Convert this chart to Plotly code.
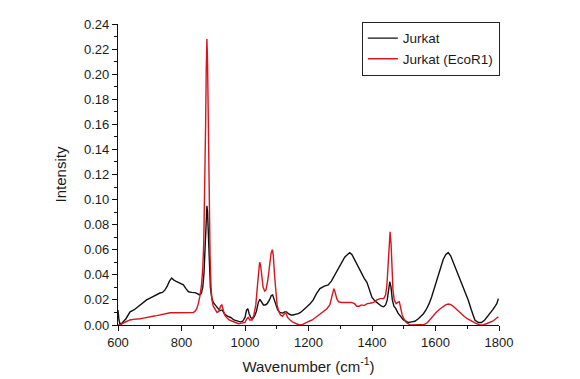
import plotly.graph_objects as go

# Jurkat (black)
jurkat_wn = [600, 603, 607, 615, 625, 638, 650, 660, 669, 680, 690, 701, 712, 722, 732, 740, 748, 755, 762, 769,
             775, 785, 795, 806, 814, 822, 832, 842, 850, 856, 862, 867, 871, 875, 878, 880, 882, 885, 888, 891,
             895, 900, 906, 912, 921, 928, 935, 945, 955, 965, 975, 985, 993, 1000, 1005, 1009, 1013, 1018, 1024,
             1030, 1036, 1042, 1047, 1052, 1058, 1064, 1070, 1077, 1083, 1087, 1092, 1097, 1103, 1110, 1118, 1125,
             1131, 1137, 1145, 1151, 1160, 1168, 1175, 1185, 1195, 1205, 1215, 1225, 1236, 1250, 1262, 1272, 1281,
             1289, 1298, 1306, 1314, 1322, 1330, 1337, 1345, 1352, 1360, 1368, 1376, 1384, 1392, 1400, 1410, 1420,
             1430, 1437, 1443, 1448, 1452, 1456, 1460, 1464, 1469, 1475, 1482, 1490, 1499, 1507, 1514, 1525, 1535,
             1546, 1555, 1562, 1570, 1580, 1588, 1597, 1606, 1615, 1624, 1632, 1640, 1648, 1656, 1665, 1677, 1690,
             1703, 1713, 1724, 1735, 1745, 1755, 1765, 1772, 1780, 1788, 1793, 1798]
jurkat_int = [0.012, 0.004, 0.000, 0.002, 0.005, 0.0105, 0.012, 0.014, 0.016, 0.018, 0.020, 0.0215, 0.023, 0.024,
              0.0255, 0.026, 0.028, 0.031, 0.035, 0.0375, 0.036, 0.0345, 0.033, 0.032, 0.029, 0.0265, 0.026,
              0.0258, 0.025, 0.024, 0.025, 0.030, 0.042, 0.068, 0.088, 0.095, 0.090, 0.070, 0.045, 0.030, 0.022,
              0.018, 0.016, 0.014, 0.0115, 0.012, 0.009, 0.007, 0.006, 0.004, 0.003, 0.0025, 0.003, 0.006, 0.012,
              0.013, 0.009, 0.006, 0.005, 0.007, 0.011, 0.018, 0.0205, 0.018, 0.016, 0.016, 0.017, 0.020, 0.0235,
              0.024, 0.020, 0.015, 0.012, 0.010, 0.0095, 0.0105, 0.0105, 0.009, 0.008, 0.008, 0.0085, 0.009, 0.010,
              0.012, 0.0145, 0.017, 0.020, 0.025, 0.029, 0.031, 0.032, 0.035, 0.039, 0.0425, 0.047, 0.051, 0.054,
              0.056, 0.0577, 0.056, 0.052, 0.049, 0.045, 0.041, 0.037, 0.034, 0.027, 0.022, 0.019, 0.017, 0.015,
              0.0145, 0.016, 0.020, 0.028, 0.0345, 0.030, 0.020, 0.015, 0.013, 0.0095, 0.007, 0.004, 0.003, 0.002,
              0.0025, 0.003, 0.005, 0.007, 0.009, 0.012, 0.017, 0.0225, 0.030, 0.038, 0.046, 0.052, 0.056, 0.0577,
              0.055, 0.050, 0.044, 0.036, 0.028, 0.020, 0.012, 0.004, 0.002, 0.002, 0.004, 0.007, 0.0095, 0.012,
              0.015, 0.017, 0.021]

# Jurkat (EcoR1) (red)
ecor1_wn = [600, 610, 620, 627, 638, 648, 660, 670, 680, 695, 710, 722, 732, 745, 755, 764, 780, 800, 820, 830, 837,
            843, 848, 853, 858, 863, 867, 870, 873, 876, 878, 880, 882, 884, 887, 890, 893, 896, 900, 906, 912, 918,
            923, 927, 931, 936, 942, 950, 960, 970, 980, 990, 1000, 1006, 1010, 1015, 1022, 1028, 1034, 1038, 1042,
            1046, 1049, 1053, 1057, 1062, 1066, 1072, 1077, 1082, 1086, 1089, 1093, 1097, 1101, 1106, 1112, 1118,
            1124, 1129, 1134, 1142, 1152, 1162, 1172, 1182, 1192, 1202, 1212, 1222, 1235, 1247, 1258, 1267, 1273,
            1277, 1280, 1284, 1289, 1295, 1305, 1320, 1335, 1345, 1352, 1360, 1367, 1375, 1385, 1394, 1405, 1415,
            1425, 1437, 1443, 1447, 1451, 1455, 1457, 1460, 1463, 1466, 1470, 1476, 1481, 1486, 1490, 1495, 1500,
            1508, 1520, 1535, 1550, 1565, 1575, 1585, 1595, 1604, 1615, 1625, 1633, 1641, 1650, 1660, 1670, 1680,
            1690, 1700, 1710, 1719, 1730, 1740, 1750, 1760, 1770, 1780, 1790, 1798]
ecor1_int = [0.0, 0.0005, 0.002, 0.003, 0.004, 0.0045, 0.0045, 0.005, 0.0055, 0.006, 0.007, 0.0075, 0.008, 0.009,
             0.0095, 0.0098, 0.0098, 0.0098, 0.0097, 0.0098, 0.010, 0.011, 0.013, 0.017, 0.023, 0.032, 0.045, 0.065,
             0.100, 0.160, 0.205, 0.228, 0.210, 0.170, 0.100, 0.055, 0.030, 0.020, 0.015, 0.012, 0.010, 0.011,
             0.015, 0.016, 0.012, 0.008, 0.006, 0.004, 0.003, 0.002, 0.001, 0.0015, 0.002, 0.005, 0.006, 0.004,
             0.004, 0.008, 0.016, 0.028, 0.042, 0.050, 0.048, 0.038, 0.030, 0.027, 0.028, 0.036, 0.048, 0.057,
             0.060, 0.056, 0.040, 0.025, 0.016, 0.011, 0.008, 0.007, 0.009, 0.0095, 0.006, 0.004, 0.002, 0.001,
             0.0, 0.0005, 0.002, 0.003, 0.004, 0.006, 0.008, 0.0105, 0.013, 0.016, 0.022, 0.027, 0.029, 0.026,
             0.021, 0.0185, 0.018, 0.018, 0.018, 0.017, 0.015, 0.015, 0.016, 0.0155, 0.017, 0.0173, 0.018, 0.020,
             0.021, 0.021, 0.024, 0.032, 0.050, 0.070, 0.0744, 0.065, 0.040, 0.028, 0.020, 0.017, 0.018, 0.0186,
             0.014, 0.008, 0.005, 0.002, 0.0, 0.0, 0.0, 0.0005, 0.002, 0.005, 0.008, 0.0105, 0.013, 0.015, 0.0163,
             0.0167, 0.016, 0.014, 0.0115, 0.009, 0.007, 0.005, 0.0035, 0.0027, 0.001, 0.0, 0.0, 0.001, 0.002,
             0.003, 0.005, 0.0066]

series_names = ["Jurkat", "Jurkat (EcoR1)"]

font_family = "Liberation Sans, Arial, sans-serif"

fig = go.Figure()
fig.add_trace(go.Scatter(x=jurkat_wn, y=jurkat_int, mode="lines", name=series_names[0],
                         line=dict(color="#111111", width=1.4)))
fig.add_trace(go.Scatter(x=ecor1_wn, y=ecor1_int, mode="lines", name=series_names[1],
                         line=dict(color="#d8141e", width=1.4)))

fig.update_layout(
    width=580, height=379,
    margin=dict(l=118, r=81, t=24, b=54),
    paper_bgcolor="white", plot_bgcolor="white",
    font=dict(family=font_family, color="#1a1a1a", size=13),
    showlegend=True,
    legend=dict(x=0.64, y=1.007, xanchor="left", yanchor="top",
                bordercolor="#222222", borderwidth=1, bgcolor="white",
                font=dict(size=13.5, family=font_family), itemwidth=30,
                tracegroupgap=0),
)
fig.update_xaxes(
    range=[600, 1800], showgrid=False, zeroline=False, automargin=False,
    showline=True, linecolor="#111111", linewidth=1.3,
    ticks="outside", ticklen=5, tickwidth=1.2, tickcolor="#111111",
    tick0=600, dtick=200,
    minor=dict(ticks="outside", ticklen=3, dtick=100, tickcolor="#111111", tickwidth=1),
    tickfont=dict(size=13),
    title=dict(text="Wavenumber (cm<sup>-1</sup>)", font=dict(size=15), standoff=12),
)
fig.update_yaxes(
    range=[0, 0.24], showgrid=False, zeroline=False, automargin=False,
    showline=True, linecolor="#111111", linewidth=1.3,
    ticks="outside", ticklen=5, tickwidth=1.2, tickcolor="#111111",
    tick0=0, dtick=0.02, tickformat=".2f",
    minor=dict(ticks="outside", ticklen=3, dtick=0.01, tickcolor="#111111", tickwidth=1),
    tickfont=dict(size=13),
    title=dict(text="Intensity", font=dict(size=15), standoff=13),
)

fig.write_html("out.html")
